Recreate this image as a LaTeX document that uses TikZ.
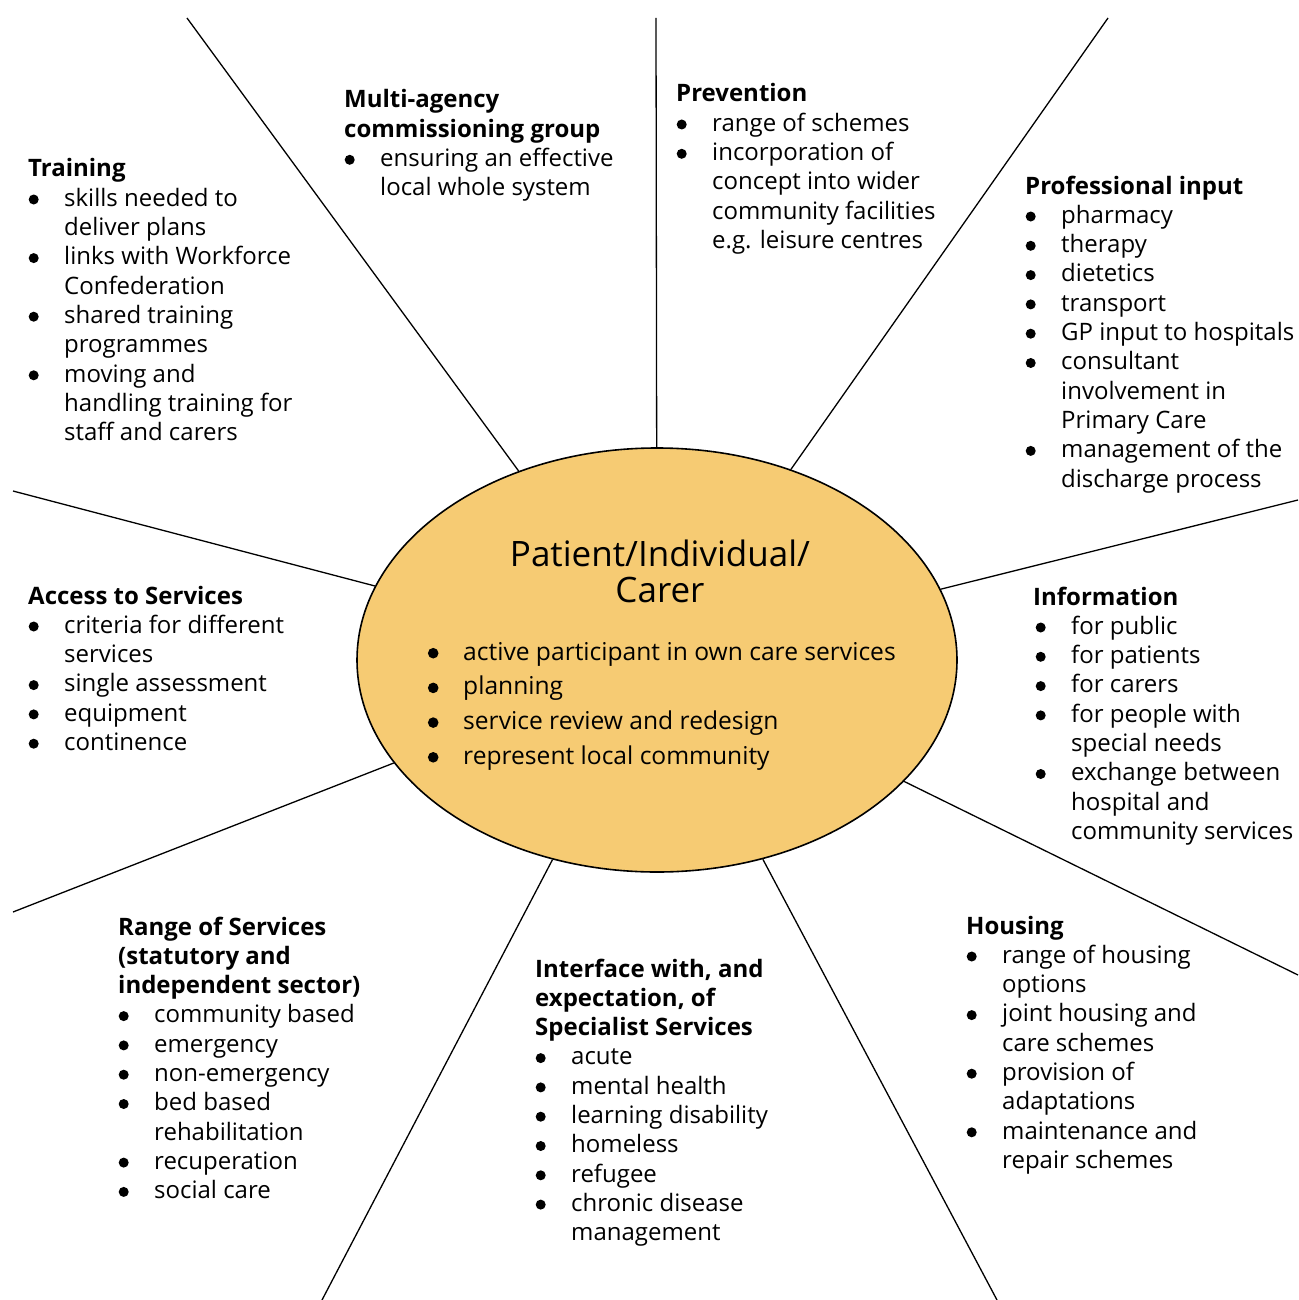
\documentclass[tikz,border=0pt]{standalone}
\usepackage{fontspec}
\setmainfont{Open Sans}
\usetikzlibrary{shapes.geometric}
\definecolor{carefill}{RGB}{246,203,115}
\newcommand\dotmark[2]{\tikz[baseline=0pt]{\path (0pt,0pt); \fill (#1,6.8pt) circle (#2);}}
\newcommand\bul{\makebox[36pt][l]{\dotmark{5.5pt}{5pt}}}
\newcommand\ind{\hspace*{36pt}}
\newcommand\ebul{\makebox[38pt][l]{\dotmark{8pt}{5.3pt}}}
\newcommand\blk[1]{\begin{minipage}[t]{420pt}\raggedright\fontsize{24}{29.3}\selectfont #1\end{minipage}}
\tikzset{
  txt/.style={anchor=base west, inner sep=0pt},
  spoke/.style={line width=1.3pt},
  hub/.style={ellipse, draw, line width=1.6pt, fill=carefill, minimum width=600pt, minimum height=424pt, inner sep=0pt}
}
\begin{document}
\begin{tikzpicture}[x=1pt,y=-1pt]
\useasboundingbox (0,0) rectangle (1298,1300);
\node[hub] (c) at (657,660) {};
\coordinate (o1) at (187,18);
\coordinate (o2) at (656,18);
\coordinate (o3) at (1108,18);
\coordinate (o4) at (1298,500);
\coordinate (o5) at (1298,975);
\coordinate (o6) at (997,1300);
\coordinate (o7) at (322,1300);
\coordinate (o8) at (13,912);
\coordinate (o9) at (13,491);
\foreach \i in {1,...,9} \draw[spoke] (c) -- (o\i);

\node[anchor=base, inner sep=0pt] (title) at (660,566) {\fontsize{35}{36}\selectfont\begin{tabular}[t]{@{}c@{}}Patient/Individual/\\Carer\end{tabular}};
\node[txt] (hubtxt) at (425,660) {\begin{minipage}[t]{520pt}\raggedright\fontsize{24.6}{34.7}\selectfont
\ebul active participant in own care services\\
\ebul planning\\
\ebul service review and redesign\\
\ebul represent local community\end{minipage}};

\node[txt] (training) at (28,177) {\blk{\textbf{Training}\\
\bul skills needed to\\
\ind deliver plans\\
\bul links with Workforce\\
\ind Confederation\\
\bul shared training\\
\ind programmes\\
\bul moving and\\
\ind handling training for\\
\ind staff and carers}};

\node[txt] (multi) at (344,108) {\blk{\textbf{Multi-agency}\\
\textbf{commissioning group}\\
\bul ensuring an effective\\
\ind local whole system}};

\node[txt] (prev) at (676,102) {\blk{\textbf{Prevention}\\
\bul range of schemes\\
\bul incorporation of\\
\ind concept into wider\\
\ind community facilities\\
\ind e.g. leisure centres}};

\node[txt] (prof) at (1025,194) {\blk{\textbf{Professional input}\\
\bul pharmacy\\
\bul therapy\\
\bul dietetics\\
\bul transport\\
\bul GP input to hospitals\\
\bul consultant\\
\ind involvement in\\
\ind Primary Care\\
\bul management of the\\
\ind discharge process}};

\node[txt] (access) at (28,604) {\blk{\textbf{Access to Services}\\
\bul criteria for different\\
\ind services\\
\bul single assessment\\
\bul equipment\\
\bul continence}};

\node[txt] (info) at (1033,605) {\blk{\textbf{Information}\\
\hspace*{2pt}\bul for public\\
\hspace*{2pt}\bul for patients\\
\hspace*{2pt}\bul for carers\\
\hspace*{2pt}\bul for people with\\
\hspace*{2pt}\ind special needs\\
\hspace*{2pt}\bul exchange between\\
\hspace*{2pt}\ind hospital and\\
\hspace*{2pt}\ind community services}};

\node[txt] (range) at (118,935) {\blk{\textbf{Range of Services}\\
\textbf{(statutory and}\\
\textbf{independent sector)}\\
\bul community based\\
\bul emergency\\
\bul non-emergency\\
\bul bed based\\
\ind rehabilitation\\
\bul recuperation\\
\bul social care}};

\node[txt] (iface) at (535,977) {\blk{\textbf{Interface with, and}\\
\textbf{expectation, of}\\
\textbf{Specialist Services}\\
\bul acute\\
\bul mental health\\
\bul learning disability\\
\bul homeless\\
\bul refugee\\
\bul chronic disease\\
\ind management}};

\node[txt] (housing) at (966,934) {\blk{\textbf{Housing}\\
\bul range of housing\\
\ind options\\
\bul joint housing and\\
\ind care schemes\\
\bul provision of\\
\ind adaptations\\
\bul maintenance and\\
\ind repair schemes}};
\end{tikzpicture}
\end{document}
